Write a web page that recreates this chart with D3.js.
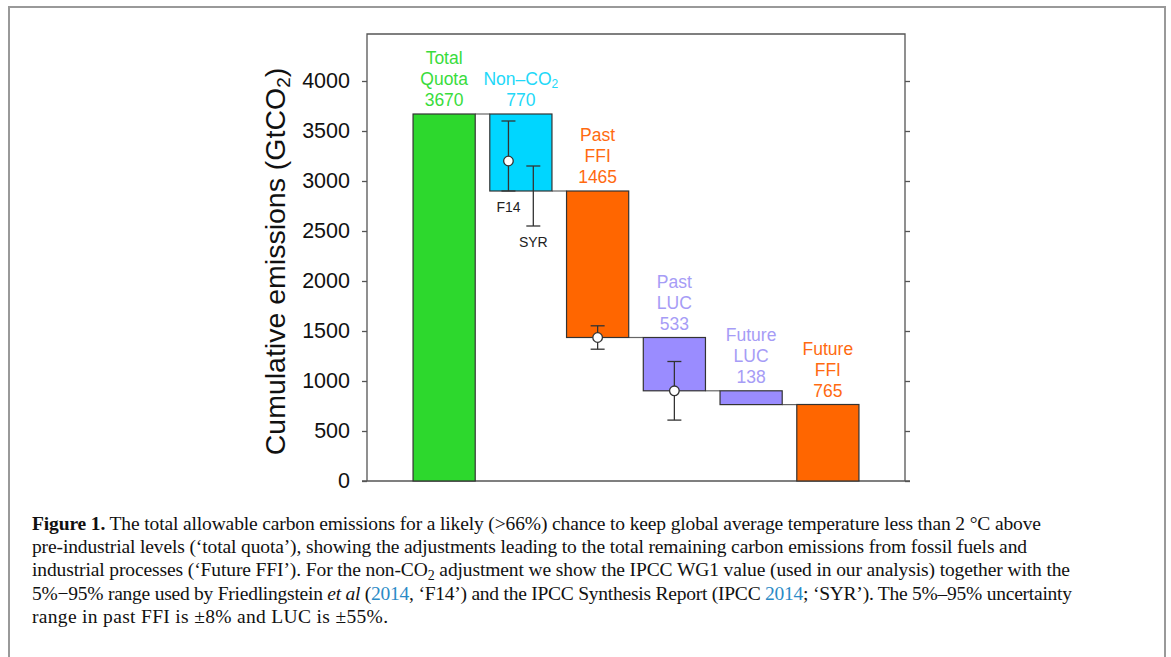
<!DOCTYPE html>
<html>
<head>
<meta charset="utf-8">
<script src="https://cdnjs.cloudflare.com/ajax/libs/d3/7.8.5/d3.min.js"></script>
<style>
  body { margin: 0; background: #fff; }
  svg { display: block; }
</style>
</head>
<body>
<div id="viz"></div>
<script>
// waterfall data
var categories = ["Total Quota", "Non-CO2", "Past FFI", "Past LUC", "Future LUC", "Future FFI"];
var labelLines = [["Total", "Quota"], ["Non–CO"], ["Past", "FFI"], ["Past", "LUC"], ["Future", "LUC"], ["Future", "FFI"]];
var values = [3670, 770, 1465, 533, 138, 765];
var barKinds = ["total", "minus", "minus", "minus", "minus", "total"];
var barColors = ["#2dd82d", "#00d6ff", "#ff6600", "#9a8cff", "#9a8cff", "#ff6600"];
var textColors = ["#38dc3c", "#22d8f8", "#ff6a10", "#a69cf6", "#a69cf6", "#ff6a10"];
var yTicks = [0, 500, 1000, 1500, 2000, 2500, 3000, 3500, 4000];

// uncertainty ranges: category, offset in band, low, mid, high, label
var errCats = ["Non-CO2", "Non-CO2", "Past FFI", "Past LUC"];
var errOffsets = [-0.2, 0.2, 0, 0];
var errLow = [2900, 2550, 1318, 609];
var errMid = [3200, null, 1435, 902];
var errHigh = [3600, 3150, 1552, 1195];
var errLabels = ["F14", "SYR", "", ""];

var W = 1171, H = 657;
var svg = d3.select("#viz").append("svg")
  .attr("width", W)
  .attr("height", H);

// outer figure frame
svg.append("rect")
  .attr("x", 9).attr("y", 7)
  .attr("width", 1156).attr("height", 700)
  .attr("fill", "none")
  .attr("stroke", "#999")
  .attr("stroke-width", 2);

var x = d3.scaleBand()
  .domain(categories)
  .range([367, 905])
  .paddingInner(0.19)
  .paddingOuter(0.6);

var y = d3.scaleLinear()
  .domain([0, 4470])
  .range([481, 34]);

// build the waterfall from the values
var bars = [];
var level = 0;
categories.forEach(function (c, i) {
  var lo, hi;
  if (barKinds[i] == "total") { lo = 0; hi = values[i]; level = values[i]; }
  else { hi = level; lo = level - values[i]; level = lo; }
  bars.push({ cat: c, lo: lo, hi: hi, i: i });
});

var axisColor = "#555";

// frame of the plot
svg.append("path")
  .attr("d", "M" + x.range()[0] + "," + y(0) + "V" + y.range()[1] + "H" + x.range()[1] + "V" + y(0))
  .attr("fill", "none")
  .attr("stroke", axisColor)
  .attr("stroke-width", 1.3);

var yAxis = svg.append("g")
  .attr("transform", "translate(" + x.range()[0] + ",0)")
  .call(d3.axisLeft(y).tickValues(yTicks).tickSize(5).tickPadding(12).tickFormat(d3.format("d")));
yAxis.select(".domain").remove();
yAxis.selectAll("line").attr("stroke", axisColor).attr("stroke-width", 1.3);
yAxis.selectAll("text")
  .attr("fill", "#111")
  .style("font-family", "'Liberation Sans', Arial, sans-serif")
  .style("font-size", "21.5px");

var yAxisR = svg.append("g")
  .attr("transform", "translate(" + x.range()[1] + ",0)")
  .call(d3.axisRight(y).tickValues(yTicks).tickSize(5).tickFormat(""));
yAxisR.select(".domain").remove();
yAxisR.selectAll("line").attr("stroke", axisColor).attr("stroke-width", 1.3);

// bottom line runs across the tick marks
svg.append("line")
  .attr("x1", x.range()[0] - 5).attr("x2", x.range()[1] + 5)
  .attr("y1", y(0)).attr("y2", y(0))
  .attr("stroke", axisColor)
  .attr("stroke-width", 1.3);

// connectors between bars
for (var i = 0; i < bars.length - 1; i++) {
  var yc = barKinds[i + 1] == "total" ? bars[i].lo : bars[i + 1].hi;
  svg.append("line")
    .attr("x1", x(bars[i].cat) + x.bandwidth())
    .attr("x2", x(bars[i + 1].cat))
    .attr("y1", y(yc)).attr("y2", y(yc))
    .attr("stroke", "#666")
    .attr("stroke-width", 1.2);
}

svg.selectAll("rect.bar")
  .data(bars)
  .enter()
  .append("rect")
  .attr("class", "bar")
  .attr("x", function (d) { return x(d.cat); })
  .attr("y", function (d) { return y(d.hi); })
  .attr("width", x.bandwidth())
  .attr("height", function (d) { return y(d.lo) - y(d.hi); })
  .attr("fill", function (d) { return barColors[d.i]; })
  .attr("stroke", "#333")
  .attr("stroke-width", 1.2);

// labels above each bar
var lineH = 21;
bars.forEach(function (d) {
  var lines = labelLines[d.i].concat([String(values[d.i])]);
  var cx = x(d.cat) + x.bandwidth() / 2;
  var base = y(d.hi) - 8;
  var t = svg.append("text")
    .attr("text-anchor", "middle")
    .attr("fill", textColors[d.i])
    .style("font-family", "'Liberation Sans', Arial, sans-serif")
    .style("font-size", "17.5px");
  lines.forEach(function (s, k) {
    var ts = t.append("tspan")
      .attr("x", cx)
      .attr("y", base - (lines.length - 1 - k) * lineH)
      .text(s);
    if (s == "Non–CO") {
      ts.append("tspan").attr("dy", 3).style("font-size", "12px").text("2");
    }
  });
});

// uncertainty bars
errCats.forEach(function (c, i) {
  var cx = x(c) + x.bandwidth() / 2 + errOffsets[i] * x.bandwidth();
  var g = svg.append("g").attr("stroke", "#333").attr("stroke-width", 1.3);
  g.append("line").attr("x1", cx).attr("x2", cx).attr("y1", y(errLow[i])).attr("y2", y(errHigh[i]));
  g.append("line").attr("x1", cx - 7).attr("x2", cx + 7).attr("y1", y(errHigh[i])).attr("y2", y(errHigh[i]));
  g.append("line").attr("x1", cx - 7).attr("x2", cx + 7).attr("y1", y(errLow[i])).attr("y2", y(errLow[i]));
  if (errMid[i] != null) {
    g.append("circle").attr("cx", cx).attr("cy", y(errMid[i])).attr("r", 4.8).attr("fill", "#fff");
  }
  if (errLabels[i]) {
    svg.append("text")
      .attr("x", cx).attr("y", y(errLow[i]) + 21)
      .attr("text-anchor", "middle")
      .attr("fill", "#222")
      .style("font-family", "'Liberation Sans', Arial, sans-serif")
      .style("font-size", "14px")
      .text(errLabels[i]);
  }
});

// y axis title
var yt = svg.append("text")
  .attr("transform", "translate(285," + ((y.range()[0] + y.range()[1]) / 2 + 4) + ") rotate(-90)")
  .attr("text-anchor", "middle")
  .attr("fill", "#111")
  .style("font-family", "'Liberation Sans', Arial, sans-serif")
  .style("font-size", "28.5px");
yt.append("tspan").text("Cumulative emissions (GtCO");
yt.append("tspan").attr("dy", 5).style("font-size", "19px").text("2");
yt.append("tspan").attr("dy", -5).text(")");

// caption
var capLines = [
  [["b", "Figure 1."], ["", " The total allowable carbon emissions for a likely (>66%) chance to keep global average temperature less than 2 °C above"]],
  [["", "pre-industrial levels (‘total quota’), showing the adjustments leading to the total remaining carbon emissions from fossil fuels and"]],
  [["", "industrial processes (‘Future FFI’). For the non-CO"], ["sub", "2"], ["up", " adjustment we show the IPCC WG1 value (used in our analysis) together with the"]],
  [["", "5%−95% range used by Friedlingstein "], ["i", "et al"], ["", " ("], ["link", "2014"], ["", ", ‘F14’) and the IPCC Synthesis Report (IPCC "], ["link", "2014"], ["", "; ‘SYR’). The 5%–95% uncertainty"]],
  [["", "range in past FFI is ±8% and LUC is ±55%."]]
];
var capEnds = [1041, 1027, 1070, 1072, 388];
var capX = 32, capY = 530, capStep = 23.2;

capLines.forEach(function (parts, k) {
  var t = svg.append("text")
    .attr("x", capX)
    .attr("y", capY + k * capStep)
    .attr("textLength", capEnds[k] - capX)
    .attr("lengthAdjust", "spacing")
    .attr("fill", "#111")
    .style("font-family", "'Liberation Serif', 'Times New Roman', serif")
    .style("font-size", "19.5px");
  parts.forEach(function (p) {
    var ts = t.append("tspan").text(p[1]);
    if (p[0] == "b") ts.style("font-weight", "bold");
    if (p[0] == "i") ts.style("font-style", "italic");
    if (p[0] == "link") ts.attr("fill", "#2a8ac6");
    if (p[0] == "sub") ts.attr("dy", 4).style("font-size", "14px");
    if (p[0] == "up") ts.attr("dy", -4);
  });
});
</script>
</body>
</html>
